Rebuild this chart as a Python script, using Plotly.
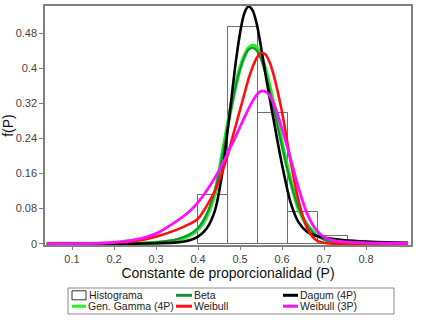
import plotly.graph_objects as go

# ---------------- data ----------------
hist_centers = [0.4357, 0.5071, 0.5786, 0.6500, 0.7214]
hist_heights = [0.112, 0.493, 0.299, 0.072, 0.0175]
hist_width = 0.0714

x_pts = [0.04, 0.10, 0.15, 0.20, 0.25, 0.30, 0.35, 0.38, 0.40, 0.42, 0.44, 0.46, 0.47, 0.48,
         0.49, 0.50, 0.51, 0.52, 0.53, 0.54, 0.55, 0.56, 0.57, 0.58, 0.60, 0.62, 0.64, 0.66,
         0.68, 0.70, 0.72, 0.75, 0.80, 0.85, 0.90]

dagum_4p = [0, 0, 0, 0, 0, 0.001, 0.003, 0.008, 0.016, 0.034, 0.075, 0.175, 0.255, 0.335,
            0.415, 0.48, 0.525, 0.541, 0.532, 0.50, 0.448, 0.39, 0.335, 0.282, 0.18, 0.095, 0.048, 0.027,
            0.018, 0.014, 0.011, 0.008, 0.005, 0.003, 0.002]

gen_gamma_4p = [0, 0, 0, 0, 0.0005, 0.002, 0.008, 0.019, 0.033, 0.062, 0.115, 0.215, 0.268, 0.318,
                0.362, 0.40, 0.427, 0.445, 0.452, 0.447, 0.428, 0.398, 0.36, 0.318, 0.228, 0.145, 0.078, 0.042,
                0.022, 0.012, 0.007, 0.003, 0.001, 0, 0]

beta = [0, 0, 0, 0, 0.001, 0.003, 0.010, 0.021, 0.036, 0.066, 0.12, 0.21, 0.262, 0.312,
        0.36, 0.398, 0.425, 0.442, 0.446, 0.44, 0.42, 0.39, 0.352, 0.31, 0.222, 0.142, 0.08, 0.042,
        0.02, 0.009, 0.004, 0.001, 0, 0, 0]

weibull = [0, 0, 0.0005, 0.002, 0.006, 0.016, 0.032, 0.045, 0.057, 0.085, 0.12, 0.17, 0.20, 0.235,
           0.27, 0.305, 0.34, 0.375, 0.403, 0.424, 0.435, 0.432, 0.415, 0.385, 0.30, 0.19, 0.095, 0.035,
           0.009, 0.002, 0, 0, 0, 0, 0]

weibull_3p = [0, 0.0002, 0.0008, 0.003, 0.009, 0.023, 0.052, 0.074, 0.094, 0.12, 0.15, 0.185, 0.205, 0.225,
              0.245, 0.266, 0.287, 0.307, 0.325, 0.34, 0.348, 0.347, 0.338, 0.32, 0.262, 0.195, 0.125, 0.068,
              0.033, 0.015, 0.008, 0.004, 0.002, 0.001, 0.0005]

x_tick_vals = [0.1, 0.2, 0.3, 0.4, 0.5, 0.6, 0.7, 0.8]
y_tick_vals = [0, 0.08, 0.16, 0.24, 0.32, 0.4, 0.48]
y_tick_text = ["0", "0.08", "0.16", "0.24", "0.32", "0.4", "0.48"]

# ---------------- styles ----------------
C_HIST = "#6e6e6e"
C_BETA = "#1a8c3c"
C_GG = "#22ee22"
C_DAGUM = "#000000"
C_WEIB = "#ff1010"
C_WEIB3 = "#ff10ff"
FONT = "Arial"

W, H = 422, 321
ML, MR, MT, MB = 45, 11, 6, 76
PW, PH = W - ML - MR, H - MT - MB


def px_x(px):
    return (px - ML) / PW


def px_y(py):
    return (MT + PH - py) / PH


fig = go.Figure()
fig.add_trace(go.Bar(x=hist_centers, y=hist_heights, width=hist_width,
                     marker=dict(color="rgba(0,0,0,0)", line=dict(color=C_HIST, width=1)),
                     name="Histograma", showlegend=False))

curves = [
    ("Gen. Gamma (4P)", gen_gamma_4p, C_GG, 4),
    ("Beta", beta, C_BETA, 2),
    ("Dagum (4P)", dagum_4p, C_DAGUM, 2.6),
    ("Weibull", weibull, C_WEIB, 2.6),
    ("Weibull (3P)", weibull_3p, C_WEIB3, 2.8),
]
for name, ys, col, w in curves:
    fig.add_trace(go.Scatter(x=x_pts, y=ys, mode="lines", name=name, showlegend=False,
                             line=dict(color=col, width=w, shape="spline", smoothing=0.8)))

# ---------------- legend (drawn) ----------------
shapes = [dict(type="rect", xref="paper", yref="paper", x0=px_x(68), x1=px_x(394),
               y0=px_y(314), y1=px_y(288), line=dict(color="#8a8a8a", width=1),
               fillcolor="white")]
annotations = []
legend_items = [
    ("Histograma", None, 72, 86, 87, 295.3),
    ("Beta", C_BETA, 176, 192, 192, 295.3),
    ("Dagum (4P)", C_DAGUM, 283, 298, 298, 295.3),
    ("Gen. Gamma (4P)", C_GG, 72, 86, 86, 306.2),
    ("Weibull", C_WEIB, 176, 192, 192, 306.2),
    ("Weibull (3P)", C_WEIB3, 283, 298, 298, 306.2),
]
for label, col, s0, s1, tx, ty in legend_items:
    if col is None:
        shapes.append(dict(type="rect", xref="paper", yref="paper", x0=px_x(s0), x1=px_x(s1),
                           y0=px_y(ty + 4.5), y1=px_y(ty - 4.5), line=dict(color="#333", width=1)))
    else:
        shapes.append(dict(type="line", xref="paper", yref="paper", x0=px_x(s0), x1=px_x(s1),
                           y0=px_y(ty), y1=px_y(ty), line=dict(color=col, width=3)))
    annotations.append(dict(text=label, xref="paper", yref="paper", x=px_x(tx), y=px_y(ty),
                            xanchor="left", yanchor="middle", showarrow=False,
                            font=dict(family=FONT, size=10.5, color="#222")))

fig.update_layout(
    width=W, height=H,
    margin=dict(l=ML, r=MR, t=MT, b=MB, autoexpand=False),
    paper_bgcolor="white", plot_bgcolor="white",
    barmode="overlay", bargap=0,
    showlegend=False,
    shapes=shapes, annotations=annotations,
    font=dict(family=FONT, color="#333"),
)
fig.update_xaxes(range=[0.0357, 0.907], tickvals=x_tick_vals, ticks="outside", ticklen=3,
                 tickcolor="#808080", showgrid=False, zeroline=False, automargin=False,
                 showline=True, mirror=True, linecolor="#808080", linewidth=1.5,
                 tickfont=dict(family=FONT, size=11, color="#444"),
                 title=dict(text="Constante de proporcionalidad (P)", standoff=1,
                            font=dict(family=FONT, size=14, color="#111")))
fig.update_yaxes(range=[-0.003, 0.542], tickvals=y_tick_vals, ticktext=y_tick_text,
                 ticks="outside", ticklen=4, tickcolor="#808080", showgrid=False, zeroline=False,
                 automargin=False,
                 showline=True, mirror=True, linecolor="#808080", linewidth=1.5,
                 tickfont=dict(family=FONT, size=11, color="#444"),
                 title=dict(text="f(P)", standoff=6,
                            font=dict(family=FONT, size=14, color="#111")))

fig.write_html("out.html", config={"displayModeBar": False},
               post_script="document.body.style.margin='0';document.body.style.padding='0';")
